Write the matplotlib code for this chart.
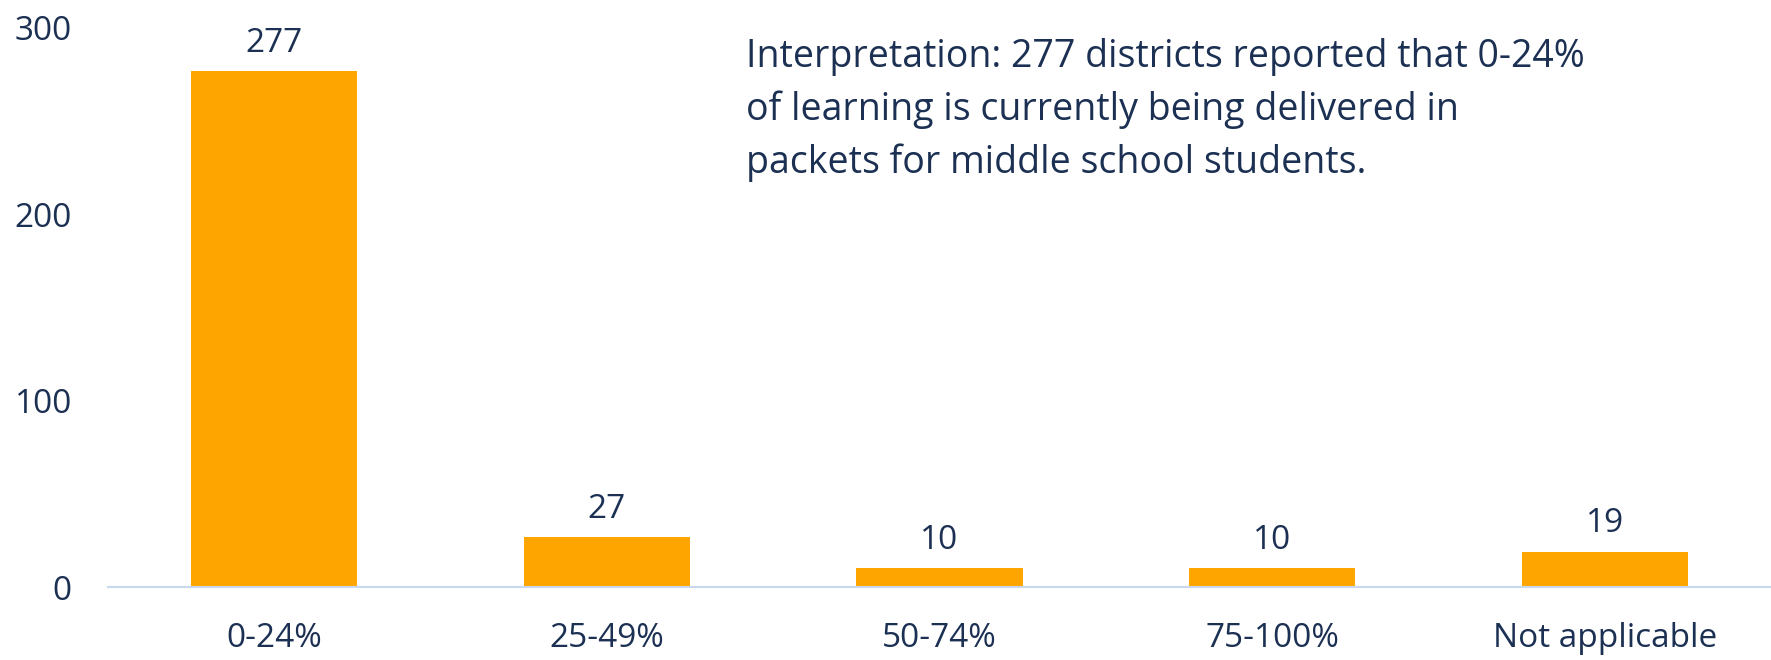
import matplotlib
matplotlib.use("Agg")
import matplotlib.pyplot as plt

categories = ["0-24%", "25-49%", "50-74%", "75-100%", "Not applicable"]
values = [277, 27, 10, 10, 19]
yticks = [0, 100, 200, 300]
note_lines = ["Interpretation: 277 districts reported that 0-24%",
              "of learning is currently being delivered in",
              "packets for middle school students."]

navy = "#1B3052"
orange = "#FFA500"
base = "#C9D8EE"

plt.rcParams["font.family"] = ["Open Sans", "DejaVu Sans"]

fig = plt.figure(figsize=(17.71, 6.60), dpi=100)
ax = fig.add_axes([108/1771, 73/660, (1771-108)/1771, (587-28)/660])

x = range(len(categories))
bars = ax.bar(x, values, width=0.5, color=orange)
ax.set_xlim(-0.5, len(categories) - 0.5)
ax.set_ylim(0, 300)
ax.set_yticks(yticks)
ax.set_xticks(list(x))
ax.set_xticklabels(categories)
ax.tick_params(axis="both", length=0, labelsize=24, labelcolor=navy)
ax.tick_params(axis="x", pad=25)
ax.tick_params(axis="y", pad=26)
for s in ["top", "right", "left"]:
    ax.spines[s].set_visible(False)
ax.spines["bottom"].set_color(base)
ax.spines["bottom"].set_linewidth(1.5)

for b, v in zip(bars, values):
    ax.annotate(str(v), (b.get_x() + b.get_width() / 2, v),
                xytext=(0, 8), textcoords="offset points",
                ha="center", va="bottom", fontsize=24, color=navy)

line_centers = [53, 105, 158]
for y, line in zip(line_centers, note_lines):
    fig.text(746/1771, 1 - y/660, line, ha="left", va="center_baseline",
             fontsize=27, color=navy)

fig.savefig("out.png", dpi=100)
